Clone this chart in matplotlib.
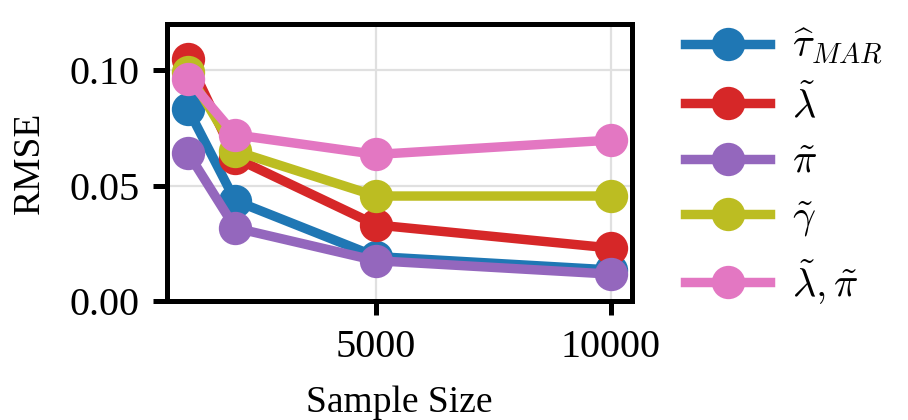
import matplotlib
matplotlib.use("Agg")
import matplotlib.pyplot as plt

# ======================
# DATA
# ======================
sample_sizes = [1000, 2000, 5000, 10000]

rmse_tau_mar = [0.083, 0.0435, 0.0193, 0.0135]
rmse_lambda = [0.1048, 0.062, 0.033, 0.023]
rmse_pi = [0.064, 0.0317, 0.0175, 0.0117]
rmse_gamma = [0.099, 0.065, 0.0455, 0.0455]
rmse_lambda_pi = [0.096, 0.072, 0.0635, 0.0697]

labels = [r"$\widehat{\tau}_{MAR}$", r"$\tilde{\lambda}$", r"$\tilde{\pi}$",
          r"$\tilde{\gamma}$", r"$\tilde{\lambda}, \tilde{\pi}$"]
colors = ["#1f77b4", "#d62728", "#9467bd", "#bcbd22", "#e377c2"]

# ======================
# STYLE
# ======================
plt.rcParams["font.family"] = ["Liberation Serif", "DejaVu Serif"]
plt.rcParams["mathtext.fontset"] = "cm"
plt.rcParams["font.size"] = 14.5

fig = plt.figure(figsize=(4.54, 2.1), dpi=200)
ax = fig.add_axes([0.184, 0.283, 0.512, 0.66])

series = [rmse_tau_mar, rmse_lambda, rmse_pi, rmse_gamma, rmse_lambda_pi]
for vals, lab, col in zip(series, labels, colors):
    ax.plot(sample_sizes, vals, marker="o", color=col, lw=3.4, ms=11, label=lab)

ax.set_ylim(0, 0.12)
ax.set_yticks([0.0, 0.05, 0.10])
ax.set_yticklabels(["0.00", "0.05", "0.10"])
ax.set_xticks([5000, 10000])
ax.set_xlabel("Sample Size", fontsize=13.5, labelpad=7)
ax.set_ylabel("RMSE", fontsize=13.5, labelpad=8)
ax.grid(True, color="#e0e0e0", lw=0.8)
ax.set_axisbelow(True)
for sp in ax.spines.values():
    sp.set_linewidth(1.8)
ax.tick_params(width=1.8, length=5, pad=5)

fig.legend(loc="upper left", bbox_to_anchor=(0.715, 1.024), frameon=False,
           handlelength=2.1, handletextpad=0.55, labelspacing=0.45)

fig.savefig("out.png", dpi=200)
